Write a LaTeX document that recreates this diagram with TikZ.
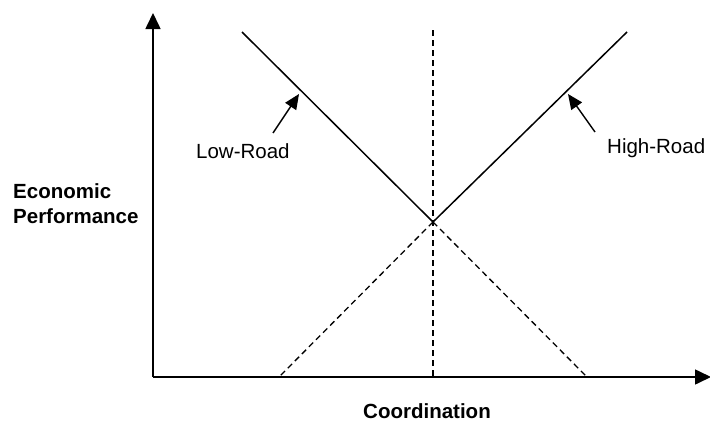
\documentclass[tikz,border=0pt]{standalone}
\usepackage{fontspec}
\setmainfont{Liberation Sans}
\usetikzlibrary{arrows.meta}
\begin{document}
\begin{tikzpicture}[x=1pt,y=-1pt,
  axisline/.style={line width=1.6pt,-{Triangle[length=16pt,width=15pt]}},
  road/.style={line width=1.5pt},
  guide/.style={line width=1.3pt,dash pattern=on 6pt off 4pt},
  pointer/.style={line width=1.4pt,-{Triangle[length=15pt,width=13pt]}},
  lbl/.style={inner sep=0pt,font=\fontsize{20.5}{25}\selectfont},
  blbl/.style={inner sep=0pt,font=\fontsize{20.5}{25}\selectfont\bfseries}]
\useasboundingbox (0,0) rectangle (710,423);
\coordinate (O) at (153,377);
\coordinate (ytop) at (153,13);
\coordinate (xend) at (711,377);
\coordinate (X) at (433,222);
\coordinate (lowtop) at (242,32);
\coordinate (hightop) at (627,32);
\coordinate (vtop) at (433,30);
\coordinate (vbot) at (433,377);
\coordinate (lowbot) at (587,377);
\coordinate (highbot) at (279,377);
\coordinate (lowtail) at (273,133);
\coordinate (lowtip) at (299,94);
\coordinate (hightail) at (595,132);
\coordinate (hightip) at (568,94);
\draw[axisline] (O) -- (ytop);
\draw[axisline] (O) -- (xend);
\draw[road] (lowtop) -- (X);
\draw[road] (hightop) -- (X);
\draw[guide] (vtop) -- (vbot);
\draw[guide] (X) -- (lowbot);
\draw[guide] (X) -- (highbot);
\draw[pointer] (lowtail) -- (lowtip);
\draw[pointer] (hightail) -- (hightip);
\node[lbl,anchor=base west] (low) at (196,158) {Low-Road};
\node[lbl,anchor=base west] (high) at (607,153) {High-Road};
\node[blbl,anchor=base west,align=left] (ep) at (13,223) {Economic\\Performance};
\node[blbl,anchor=base] (coord) at (427,418) {Coordination};
\end{tikzpicture}
\end{document}
